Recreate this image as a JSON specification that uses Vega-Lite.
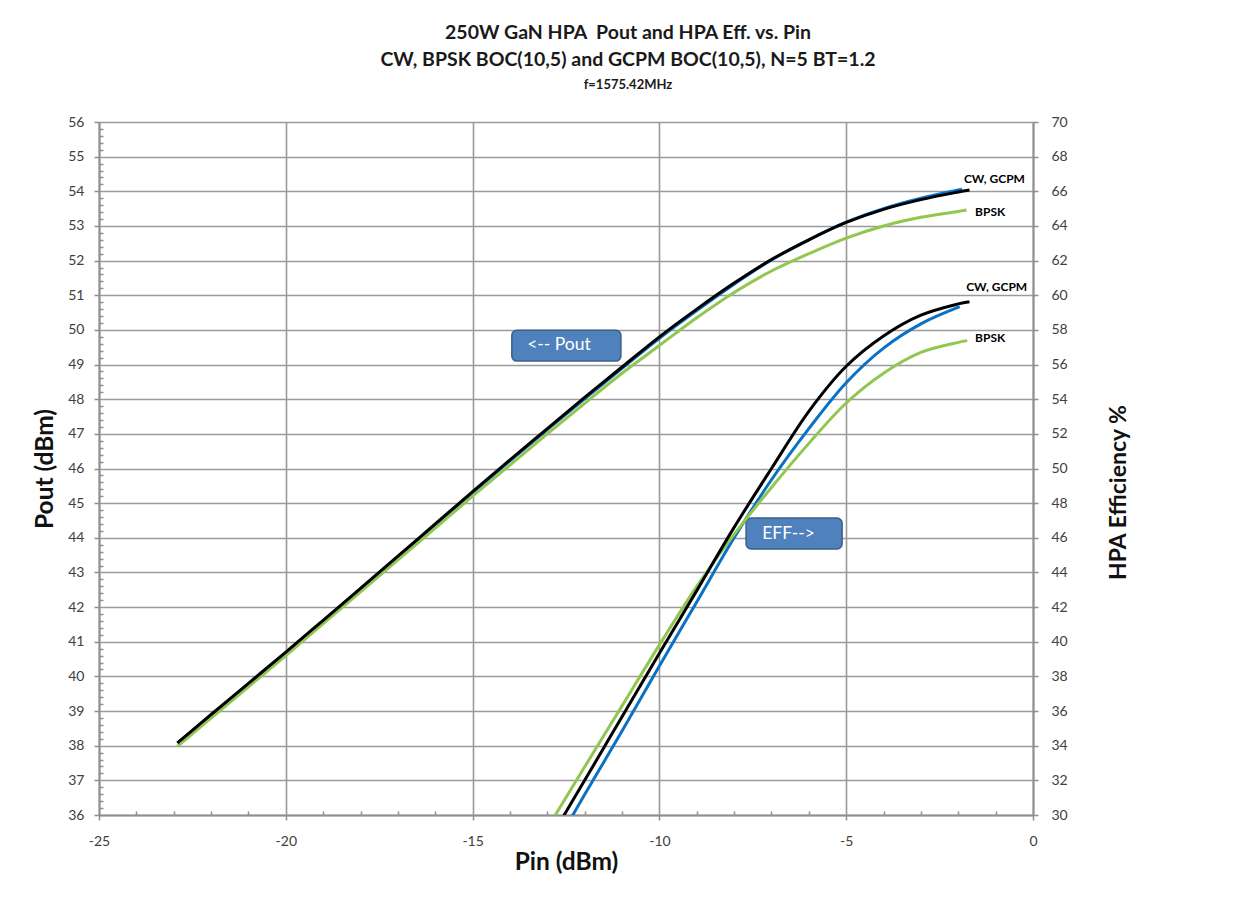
{
  "$schema": "https://vega.github.io/schema/vega-lite/v6.json",
  "width": 934,
  "height": 693,
  "autosize": {"type": "none"},
  "padding": {"left": 99, "top": 122, "right": 218, "bottom": 94},
  "background": "white",
  "config": {
    "view": {"stroke": null},
    "font": "Lato",
    "axis": {
      "labelFont": "Lato",
      "labelFontSize": 14,
      "labelColor": "#404040",
      "labelFlush": false,
      "titleFont": "Lato",
      "titleFontWeight": "bold",
      "titleColor": "#111111",
      "domainColor": "#8f8f8f",
      "domainWidth": 2,
      "tickColor": "#8f8f8f",
      "tickWidth": 1.5,
      "gridColor": "#9a9a9a",
      "gridWidth": 1.6
    }
  },
  "title": {
    "text": ["250W GaN HPA \u00a0Pout and HPA Eff. vs. Pin", "CW, BPSK BOC(10,5) and GCPM BOC(10,5), N=5 BT=1.2"],
    "subtitle": "f=1575.42MHz",
    "anchor": "middle",
    "dx": 62,
    "offset": 22,
    "font": "Lato",
    "fontSize": 19.5,
    "fontWeight": "bold",
    "color": "#1a1a1a",
    "lineHeight": 27,
    "subtitleFont": "Lato",
    "subtitleFontSize": 13,
    "subtitleFontWeight": "bold",
    "subtitleColor": "#1a1a1a",
    "subtitlePadding": 9
  },
  "datasets": {
    "pout": [
      {"series": "GCPM", "pin": -22.9, "pout": 38.07},
      {"series": "GCPM", "pin": -22, "pout": 38.88},
      {"series": "GCPM", "pin": -21, "pout": 39.78},
      {"series": "GCPM", "pin": -20, "pout": 40.68},
      {"series": "GCPM", "pin": -19, "pout": 41.6},
      {"series": "GCPM", "pin": -18, "pout": 42.52},
      {"series": "GCPM", "pin": -17, "pout": 43.45},
      {"series": "GCPM", "pin": -16, "pout": 44.37},
      {"series": "GCPM", "pin": -15, "pout": 45.3},
      {"series": "GCPM", "pin": -14, "pout": 46.22},
      {"series": "GCPM", "pin": -13, "pout": 47.12},
      {"series": "GCPM", "pin": -12, "pout": 48.01},
      {"series": "GCPM", "pin": -11, "pout": 48.89},
      {"series": "GCPM", "pin": -10, "pout": 49.76},
      {"series": "GCPM", "pin": -9, "pout": 50.56},
      {"series": "GCPM", "pin": -8, "pout": 51.32},
      {"series": "GCPM", "pin": -7, "pout": 52.02},
      {"series": "GCPM", "pin": -6, "pout": 52.6},
      {"series": "GCPM", "pin": -5, "pout": 53.11},
      {"series": "GCPM", "pin": -4, "pout": 53.5},
      {"series": "GCPM", "pin": -3, "pout": 53.8},
      {"series": "GCPM", "pin": -1.9, "pout": 54.06},
      {"series": "BPSK", "pin": -22.9, "pout": 37.98},
      {"series": "BPSK", "pin": -22, "pout": 38.8},
      {"series": "BPSK", "pin": -21, "pout": 39.7},
      {"series": "BPSK", "pin": -20, "pout": 40.6},
      {"series": "BPSK", "pin": -19, "pout": 41.52},
      {"series": "BPSK", "pin": -18, "pout": 42.44},
      {"series": "BPSK", "pin": -17, "pout": 43.36},
      {"series": "BPSK", "pin": -16, "pout": 44.28},
      {"series": "BPSK", "pin": -15, "pout": 45.2},
      {"series": "BPSK", "pin": -14, "pout": 46.1},
      {"series": "BPSK", "pin": -13, "pout": 47.0},
      {"series": "BPSK", "pin": -12, "pout": 47.88},
      {"series": "BPSK", "pin": -11, "pout": 48.75},
      {"series": "BPSK", "pin": -10, "pout": 49.55},
      {"series": "BPSK", "pin": -9, "pout": 50.35},
      {"series": "BPSK", "pin": -8, "pout": 51.08},
      {"series": "BPSK", "pin": -7, "pout": 51.7},
      {"series": "BPSK", "pin": -6, "pout": 52.2},
      {"series": "BPSK", "pin": -5, "pout": 52.65},
      {"series": "BPSK", "pin": -4, "pout": 53.0},
      {"series": "BPSK", "pin": -3, "pout": 53.25},
      {"series": "BPSK", "pin": -2, "pout": 53.42},
      {"series": "BPSK", "pin": -1.78, "pout": 53.46},
      {"series": "CW", "pin": -22.9, "pout": 38.08},
      {"series": "CW", "pin": -22, "pout": 38.9},
      {"series": "CW", "pin": -21, "pout": 39.8},
      {"series": "CW", "pin": -20, "pout": 40.7},
      {"series": "CW", "pin": -19, "pout": 41.62},
      {"series": "CW", "pin": -18, "pout": 42.54},
      {"series": "CW", "pin": -17, "pout": 43.47},
      {"series": "CW", "pin": -16, "pout": 44.4},
      {"series": "CW", "pin": -15, "pout": 45.33},
      {"series": "CW", "pin": -14, "pout": 46.25},
      {"series": "CW", "pin": -13, "pout": 47.15},
      {"series": "CW", "pin": -12, "pout": 48.05},
      {"series": "CW", "pin": -11, "pout": 48.93},
      {"series": "CW", "pin": -10, "pout": 49.8},
      {"series": "CW", "pin": -9, "pout": 50.6},
      {"series": "CW", "pin": -8, "pout": 51.35},
      {"series": "CW", "pin": -7, "pout": 52.03},
      {"series": "CW", "pin": -6, "pout": 52.6},
      {"series": "CW", "pin": -5, "pout": 53.1},
      {"series": "CW", "pin": -4, "pout": 53.48},
      {"series": "CW", "pin": -3, "pout": 53.76},
      {"series": "CW", "pin": -2, "pout": 53.98},
      {"series": "CW", "pin": -1.7, "pout": 54.04}
    ],
    "eff": [
      {"series": "GCPM", "pin": -12.85, "eff": 28.0},
      {"series": "GCPM", "pin": -12, "eff": 31.18},
      {"series": "GCPM", "pin": -11, "eff": 34.85},
      {"series": "GCPM", "pin": -10, "eff": 38.6},
      {"series": "GCPM", "pin": -9, "eff": 42.3},
      {"series": "GCPM", "pin": -8, "eff": 46.0},
      {"series": "GCPM", "pin": -7, "eff": 49.35},
      {"series": "GCPM", "pin": -6, "eff": 52.3},
      {"series": "GCPM", "pin": -5, "eff": 54.95},
      {"series": "GCPM", "pin": -4, "eff": 56.95},
      {"series": "GCPM", "pin": -3, "eff": 58.35},
      {"series": "GCPM", "pin": -1.96, "eff": 59.34},
      {"series": "BPSK", "pin": -13.35, "eff": 28.0},
      {"series": "BPSK", "pin": -12, "eff": 32.78},
      {"series": "BPSK", "pin": -11, "eff": 36.3},
      {"series": "BPSK", "pin": -10, "eff": 39.82},
      {"series": "BPSK", "pin": -9, "eff": 43.2},
      {"series": "BPSK", "pin": -8, "eff": 46.2},
      {"series": "BPSK", "pin": -7, "eff": 48.9},
      {"series": "BPSK", "pin": -6, "eff": 51.45},
      {"series": "BPSK", "pin": -5, "eff": 53.78},
      {"series": "BPSK", "pin": -4, "eff": 55.5},
      {"series": "BPSK", "pin": -3, "eff": 56.7},
      {"series": "BPSK", "pin": -2, "eff": 57.28},
      {"series": "BPSK", "pin": -1.76, "eff": 57.38},
      {"series": "CW", "pin": -13.1, "eff": 28.0},
      {"series": "CW", "pin": -12, "eff": 32.0},
      {"series": "CW", "pin": -11, "eff": 35.67},
      {"series": "CW", "pin": -10, "eff": 39.33},
      {"series": "CW", "pin": -9, "eff": 42.95},
      {"series": "CW", "pin": -8, "eff": 46.6},
      {"series": "CW", "pin": -7, "eff": 50.0},
      {"series": "CW", "pin": -6, "eff": 53.3},
      {"series": "CW", "pin": -5, "eff": 55.9},
      {"series": "CW", "pin": -4, "eff": 57.65},
      {"series": "CW", "pin": -3, "eff": 58.85},
      {"series": "CW", "pin": -2, "eff": 59.5},
      {"series": "CW", "pin": -1.7, "eff": 59.63}
    ],
    "endLabels": [
      {"pin": -1.85, "pout": 54.35, "label": "CW, GCPM"},
      {"pin": -1.55, "pout": 53.39, "label": "BPSK"},
      {"pin": -1.79, "pout": 51.25, "label": "CW, GCPM"},
      {"pin": -1.55, "pout": 49.76, "label": "BPSK"}
    ],
    "callouts": [
      {"pin": -13.95, "pin2": -11.03, "pout": 49.99, "pout2": 49.1, "textPin": -13.54, "textPout": 49.55, "label": "<-- Pout"},
      {"pin": -7.68, "pin2": -5.11, "pout": 44.57, "pout2": 43.68, "textPin": -7.25, "textPout": 44.12, "label": "EFF-->"}
    ]
  },
  "encoding": {
    "x": {
      "field": "pin",
      "type": "quantitative",
      "scale": {"domain": [-25, 0], "nice": false, "zero": false},
      "axis": {
        "title": "Pin (dBm)",
        "titleFontSize": 24.5,
        "titlePadding": 2,
        "tickCount": 500,
        "values": [-25, -24, -23, -22, -21, -20, -19, -18, -17, -16, -15, -14, -13, -12, -11, -10, -9, -8, -7, -6, -5, -4, -3, -2, -1, 0],
        "labelExpr": "datum.value % 5 === 0 ? '' + datum.value : ''",
        "labelOverlap": false,
        "labelPadding": 14,
        "tickSize": {"condition": {"test": "datum.value % 5 === 0", "value": 5}, "value": -4},
        "gridOpacity": {"condition": {"test": "datum.value % 5 === 0", "value": 1}, "value": 0}
      }
    }
  },
  "layer": [
    {
      "layer": [
        {
          "data": {"name": "pout"},
          "transform": [{"filter": "datum.series === 'GCPM'"}],
          "mark": {"type": "line", "color": "#0A72C6", "strokeWidth": 3, "interpolate": "catmull-rom"},
          "encoding": {
            "y": {
              "field": "pout",
              "type": "quantitative",
              "scale": {"domain": [36, 56], "nice": false, "zero": false},
              "axis": {
                "orient": "left",
                "title": "Pout (dBm)",
                "titleFontSize": 24.5,
                "titlePadding": 10,
                "tickCount": 500,
                "values": [36, 36.2, 36.4, 36.6, 36.8, 37, 37.2, 37.4, 37.6, 37.8, 38, 38.2, 38.4, 38.6, 38.8, 39, 39.2, 39.4, 39.6, 39.8, 40, 40.2, 40.4, 40.6, 40.8, 41, 41.2, 41.4, 41.6, 41.8, 42, 42.2, 42.4, 42.6, 42.8, 43, 43.2, 43.4, 43.6, 43.8, 44, 44.2, 44.4, 44.6, 44.8, 45, 45.2, 45.4, 45.6, 45.8, 46, 46.2, 46.4, 46.6, 46.8, 47, 47.2, 47.4, 47.6, 47.8, 48, 48.2, 48.4, 48.6, 48.8, 49, 49.2, 49.4, 49.6, 49.8, 50, 50.2, 50.4, 50.6, 50.8, 51, 51.2, 51.4, 51.6, 51.8, 52, 52.2, 52.4, 52.6, 52.8, 53, 53.2, 53.4, 53.6, 53.8, 54, 54.2, 54.4, 54.6, 54.8, 55, 55.2, 55.4, 55.6, 55.8, 56],
                "labelExpr": "abs(datum.value - round(datum.value)) < 0.01 ? '' + round(datum.value) : ''",
                "labelOverlap": false,
                "labelPadding": 10,
                "tickSize": {"condition": {"test": "abs(datum.value - round(datum.value)) < 0.01", "value": 5}, "value": -4},
                "gridOpacity": {"condition": {"test": "abs(datum.value - round(datum.value)) < 0.01", "value": 1}, "value": 0}
              }
            }
          }
        },
        {
          "data": {"name": "pout"},
          "transform": [{"filter": "datum.series === 'BPSK'"}],
          "mark": {"type": "line", "color": "#92C650", "strokeWidth": 3, "interpolate": "catmull-rom"},
          "encoding": {"y": {"field": "pout", "type": "quantitative", "title": "Pout (dBm)"}}
        },
        {
          "data": {"name": "pout"},
          "transform": [{"filter": "datum.series === 'CW'"}],
          "mark": {"type": "line", "color": "#000000", "strokeWidth": 3, "interpolate": "catmull-rom"},
          "encoding": {"y": {"field": "pout", "type": "quantitative", "title": "Pout (dBm)"}}
        },
        {
          "data": {"name": "endLabels"},
          "mark": {"type": "text", "align": "left", "baseline": "middle", "font": "Lato", "fontSize": 12, "fontWeight": "bold", "color": "#000000"},
          "encoding": {
            "y": {"field": "pout", "type": "quantitative", "title": "Pout (dBm)"},
            "text": {"field": "label"}
          }
        },
        {
          "data": {"name": "callouts"},
          "mark": {"type": "rect", "fill": "#4F81BD", "stroke": "#3A5F8C", "strokeWidth": 1.5, "cornerRadius": 5},
          "encoding": {
            "x2": {"field": "pin2"},
            "y": {"field": "pout", "type": "quantitative", "title": "Pout (dBm)"},
            "y2": {"field": "pout2"}
          }
        },
        {
          "data": {"name": "callouts"},
          "mark": {"type": "text", "align": "left", "baseline": "middle", "font": "Lato", "fontSize": 17.5, "color": "#ffffff"},
          "encoding": {
            "x": {"field": "textPin", "type": "quantitative"},
            "y": {"field": "textPout", "type": "quantitative", "title": "Pout (dBm)"},
            "text": {"field": "label"}
          }
        }
      ]
    },
    {
      "layer": [
        {
          "data": {"name": "eff"},
          "transform": [{"filter": "datum.series === 'GCPM'"}],
          "mark": {"type": "line", "color": "#0A72C6", "strokeWidth": 3, "interpolate": "catmull-rom", "clip": true},
          "encoding": {
            "y": {
              "field": "eff",
              "type": "quantitative",
              "scale": {"domain": [30, 70], "nice": false, "zero": false},
              "axis": {
                "orient": "right",
                "title": "HPA Efficiency %",
                "titleFontSize": 23,
                "titleAngle": 270,
                "titlePadding": 63,
                "titleY": 370,
                "tickCount": 500,
                "values": [30, 32, 34, 36, 38, 40, 42, 44, 46, 48, 50, 52, 54, 56, 58, 60, 62, 64, 66, 68, 70],
                "labelExpr": "'' + round(datum.value)",
                "labelOverlap": false,
                "labelPadding": 13,
                "tickSize": 5,
                "grid": false
              }
            }
          }
        },
        {
          "data": {"name": "eff"},
          "transform": [{"filter": "datum.series === 'BPSK'"}],
          "mark": {"type": "line", "color": "#92C650", "strokeWidth": 3, "interpolate": "catmull-rom", "clip": true},
          "encoding": {"y": {"field": "eff", "type": "quantitative", "title": "HPA Efficiency %"}}
        },
        {
          "data": {"name": "eff"},
          "transform": [{"filter": "datum.series === 'CW'"}],
          "mark": {"type": "line", "color": "#000000", "strokeWidth": 3, "interpolate": "catmull-rom", "clip": true},
          "encoding": {"y": {"field": "eff", "type": "quantitative", "title": "HPA Efficiency %"}}
        }
      ]
    }
  ],
  "resolve": {"scale": {"y": "independent"}}
}
